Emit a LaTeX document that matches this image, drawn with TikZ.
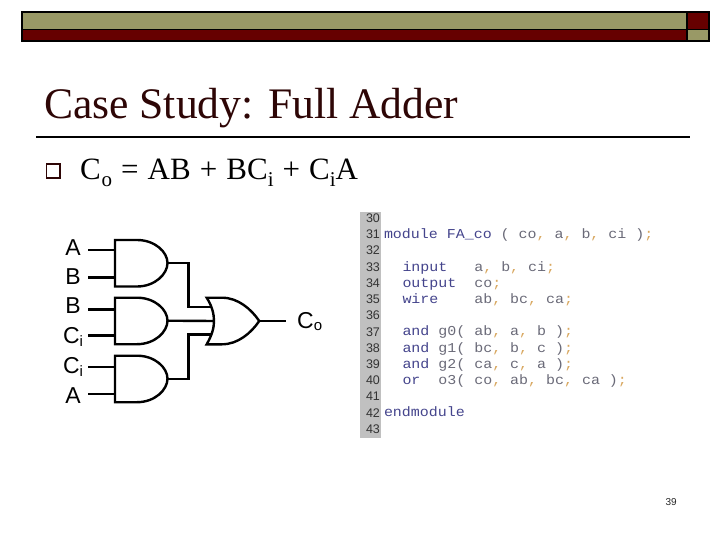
\documentclass[tikz,border=0pt]{standalone}
\usepackage{fontspec}
\setmainfont{Liberation Serif}
\setsansfont{Liberation Sans}
\setmonofont[FakeStretch=1.1]{Liberation Mono}
\definecolor{olivebar}{HTML}{999966}
\definecolor{maroonbar}{HTML}{660000}
\definecolor{titlecol}{HTML}{2E0606}
\definecolor{gutter}{HTML}{C0C0C0}
\definecolor{kwcol}{HTML}{44448C}
\definecolor{idcol}{HTML}{6A6A78}
\definecolor{pncol}{HTML}{D9A860}
\newcommand{\pn}[1]{\textcolor{pncol}{#1}}
\newcommand{\kw}[1]{\textcolor{kwcol}{#1}}
\newcommand{\fsz}[1]{\fontsize{#1}{#1}\selectfont}
\newcommand{\sbs}[1]{\raisebox{-7pt}{\fsz{21}#1}}
\newcommand{\gap}{\hspace{1.3pt}}
\tikzset{
  x=1pt,y=-1pt,
  txt/.style={inner sep=0pt,outer sep=0pt,anchor=base west},
  barbox/.style={draw=black,line width=1.6pt},
  gateshape/.style={draw=black,line width=2.4pt,line join=miter},
  wirepath/.style={draw=black,line width=2.4pt},
  pinlabel/.style={inner sep=0pt,anchor=base,font=\sffamily\fsz{23}},
  lineno/.style={txt,font=\sffamily\fsz{12.5},text=black!80},
  codeline/.style={txt,font=\ttfamily\fsz{13.6},text=idcol,text depth=0pt},
}
\begin{document}
\begin{tikzpicture}
\useasboundingbox (0,0) rectangle (720,540);
\fill[white] (0,0) rectangle (720,540);
% header bars
\path[barbox,fill=olivebar] (22,12) rectangle (687,29.5);
\path[barbox,fill=maroonbar] (687,12) rectangle (709,29.5);
\path[barbox,fill=maroonbar] (22,29.5) rectangle (687,41);
\path[barbox,fill=olivebar] (687,29.5) rectangle (709,41);
% title
\node[txt,font=\fsz{43.6},text=titlecol] (title) at (44,119) {Case Study: Full Adder};
\draw[line width=2pt,black] (36,137.3) -- (690,137.3);
% bullet
\draw[line width=1.4pt,titlecol] (46.7,164) rectangle (60,178);
\node[txt,font=\fsz{31}] (eq) at (80,179.5) {C\hspace{1pt}\sbs{o}\gap{} =\gap{} AB\gap{} +\gap{} BC\sbs{i}\gap{} +\gap{} C\sbs{i}A};
% pins
\node[pinlabel] (la1) at (73,255) {A};
\node[pinlabel] (lb1) at (73,284) {B};
\node[pinlabel] (lb2) at (73,313.5) {B};
\node[pinlabel] (lc1) at (73,343.5) {C\raisebox{-3pt}{\fsz{15}i}};
\node[pinlabel] (lc2) at (73,373.5) {C\raisebox{-3pt}{\fsz{15}i}};
\node[pinlabel] (la2) at (73,403) {A};
\node[inner sep=0pt,anchor=base west,font=\sffamily\fsz{23}] (lco) at (297,328) {C\raisebox{-2pt}{\fsz{15}o}};
% AND gates
\foreach \n/\t in {g0/240,g1/297.7,g2/355.7}{
  \draw[gateshape] (115,\t) -- (137,\t)
    .. controls (155,\t) and (167.5,\t+12) .. (167.5,\t+23)
    .. controls (167.5,\t+34) and (155,\t+46.5) .. (137,\t+46.5)
    -- (115,\t+46.5) -- cycle;
  \coordinate (\n o) at (167.5,\t+23);
}
% OR gate
\draw[gateshape] (206.7,297.7) -- (222,297.7)
  .. controls (238,297.7) and (251,309) .. (259.3,321)
  .. controls (251,333) and (238,344.3) .. (222,344.3)
  -- (206.7,344.3)
  .. controls (212,335) and (214,328) .. (214,321)
  .. controls (214,314) and (212,306) .. (206.7,297.7) -- cycle;
\coordinate (orout) at (259.3,321);
\coordinate (ora) at (212,306.7);
\coordinate (orb) at (214,321);
\coordinate (orc) at (212,334.3);
\coordinate (bus) at (188.3,321);
\coordinate (coend) at (286,321);
\coordinate (ia1) at (88,250);
\coordinate (ib1) at (88,277.3);
\coordinate (ib2) at (88,309.3);
\coordinate (ic1) at (88,335.3);
\coordinate (ic2) at (88,367);
\coordinate (ia2) at (88,393.7);
\draw[wirepath] (ia1) -- (115,250);
\draw[wirepath] (ib1) -- (115,277.3);
\draw[wirepath] (ib2) -- (115,309.3);
\draw[wirepath] (ic1) -- (115,335.3);
\draw[wirepath] (ic2) -- (115,367);
\draw[wirepath] (ia2) -- (115,393.7);
\draw[wirepath] (g0o) -| (bus |- ora) -- (ora);
\draw[wirepath] (g1o) -- (orb);
\draw[wirepath] (g2o) -| (bus |- orc) -- (orc);
\draw[wirepath] (orout) -- (coend);
% code gutter
\fill[gutter] (360,212) rectangle (381,438);
\foreach \num/\yy in {30/222.5,31/238.5,32/254.5,33/271.5,34/287.5,35/303.5,36/319.5,37/336,38/352.5,39/368.5,40/384.5,41/400.5,42/417,43/433.5}{
  \node[lineno] (n\num) at (366,\yy) {\num};
}
\node[codeline] (c31) at (384,238) {\kw{module}~\kw{FA\_co}~(~co\pn{,}~a\pn{,}~b\pn{,}~ci~)\pn{;}};
\node[codeline] (c33) at (402.5,271) {\kw{input}~~~a\pn{,}~b\pn{,}~ci\pn{;}};
\node[codeline] (c34) at (402.5,287) {\kw{output}~~co\pn{;}};
\node[codeline] (c35) at (402.5,303) {\kw{wire}~~~~ab\pn{,}~bc\pn{,}~ca\pn{;}};
\node[codeline] (c37) at (402.5,335.5) {\kw{and}~g0(~ab\pn{,}~a\pn{,}~b~)\pn{;}};
\node[codeline] (c38) at (402.5,352) {\kw{and}~g1(~bc\pn{,}~b\pn{,}~c~)\pn{;}};
\node[codeline] (c39) at (402.5,368) {\kw{and}~g2(~ca\pn{,}~c\pn{,}~a~)\pn{;}};
\node[codeline] (c40) at (402.5,384) {\kw{or}~~o3(~co\pn{,}~ab\pn{,}~bc\pn{,}~ca~)\pn{;}};
\node[codeline] (c42) at (384,416.5) {\kw{endmodule}};
% page number
\node[txt,font=\sffamily\fsz{10},text=black!85] (page) at (665.5,505) {39};
\end{tikzpicture}
\end{document}
